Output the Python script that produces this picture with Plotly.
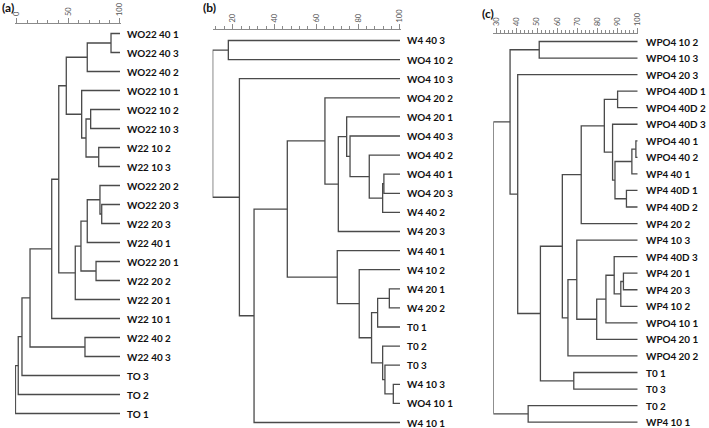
import plotly.graph_objects as go

W, H = 709, 428

# ---------------- data ----------------
a_leaves = ["WO22 40 1", "WO22 40 3", "WO22 40 2", "WO22 10 1", "WO22 10 2", "WO22 10 3",
            "W22 10 2", "W22 10 3", "WO22 20 2", "WO22 20 3", "W22 20 3", "W22 40 1",
            "WO22 20 1", "W22 20 2", "W22 20 1", "W22 10 1", "W22 40 2", "W22 40 3",
            "TO 3", "TO 2", "TO 1"]
# merges: (node, node, similarity %); "#k" = result of merge k
a_merges = [
    ("WO22 40 1", "WO22 40 3", 91.3),
    ("#0", "WO22 40 2", 68.3),
    ("WO22 10 2", "WO22 10 3", 71.6),
    ("W22 10 2", "W22 10 3", 79.4),
    ("#2", "#3", 67.1),
    ("WO22 10 1", "#4", 62.9),
    ("#1", "#5", 48.0),
    ("WO22 20 3", "W22 20 3", 82.3),
    ("WO22 20 2", "#7", 80.6),
    ("#8", "W22 40 1", 68.3),
    ("WO22 20 1", "W22 20 2", 76.8),
    ("#9", "#10", 62.2),
    ("#11", "W22 20 1", 56.7),
    ("#6", "#12", 40.7),
    ("#13", "W22 10 1", 33.9),
    ("W22 40 2", "W22 40 3", 66.1),
    ("#14", "#15", 12.9),
    ("#16", "TO 3", 5.1),
    ("#17", "TO 2", 1.5),
    ("#18", "TO 1", -1.2),
]
a_ticks = [0, 50, 100]

b_leaves = ["W4 40 3", "WO4 10 2", "WO4 10 3", "WO4 20 2", "WO4 20 1", "WO4 40 3",
            "WO4 40 2", "WO4 40 1", "WO4 20 3", "W4 40 2", "W4 20 3", "W4 40 1",
            "W4 10 2", "W4 20 1", "W4 20 2", "T0 1", "T0 2", "T0 3", "W4 10 3",
            "WO4 10 1", "W4 10 1"]
b_merges = [
    ("W4 40 3", "WO4 10 2", 17.9),
    ("WO4 40 1", "WO4 20 3", 92.3),
    ("#1", "W4 40 2", 91.7),
    ("WO4 40 2", "#2", 85.3),
    ("WO4 40 3", "#3", 76.1),
    ("WO4 20 1", "#4", 74.5),
    ("#5", "W4 20 3", 70.5),
    ("WO4 20 2", "#6", 64.1),
    ("W4 20 1", "W4 20 2", 94.9),
    ("#8", "T0 1", 89.3),
    ("W4 10 3", "WO4 10 1", 96.8),
    ("T0 3", "#10", 92.8),
    ("T0 2", "#11", 91.7),
    ("#9", "#12", 86.4),
    ("W4 10 2", "#13", 80.5),
    ("W4 40 1", "#14", 70.0),
    ("#7", "#15", 46.1),
    ("#16", "W4 10 1", 30.2),
    ("WO4 10 3", "#17", 23.2),
    ("#0", "#18", 10.4),
]
b_ticks = [20, 40, 60, 80, 100]

c_leaves = ["WPO4 10 2", "WPO4 10 3", "WPO4 20 3", "WPO4 40D 1", "WPO4 40D 2", "WPO4 40D 3",
            "WPO4 40 1", "WPO4 40 2", "WP4 40 1", "WP4 40D 1", "WP4 40D 2", "WP4 20 2",
            "WP4 10 3", "WP4 40D 3", "WP4 20 1", "WP4 20 3", "WP4 10 2", "WPO4 10 1",
            "WPO4 20 1", "WPO4 20 2", "T0 1", "T0 3", "T0 2", "WP4 10 1"]
c_merges = [
    ("WPO4 10 2", "WPO4 10 3", 51.1),
    ("WPO4 40D 1", "WPO4 40D 2", 90.1),
    ("WPO4 40 1", "WPO4 40 2", 99.2),
    ("#2", "WP4 40 1", 97.2),
    ("WP4 40D 1", "WP4 40D 2", 94.5),
    ("#3", "#4", 88.8),
    ("WPO4 40D 3", "#5", 87.6),
    ("#1", "#6", 83.5),
    ("#7", "WP4 20 2", 72.0),
    ("WP4 20 1", "WP4 20 3", 93.0),
    ("#9", "WP4 10 2", 91.7),
    ("WP4 40D 3", "#10", 88.4),
    ("#11", "WPO4 10 1", 84.3),
    ("#12", "WPO4 20 1", 79.7),
    ("WP4 10 3", "#13", 69.8),
    ("#14", "WPO4 20 2", 65.4),
    ("#8", "#15", 62.6),
    ("T0 1", "T0 3", 68.3),
    ("#16", "#17", 51.7),
    ("WPO4 20 3", "#18", 40.4),
    ("#0", "#19", 36.6),
    ("T0 2", "WP4 10 1", 45.6),
    ("#20", "#21", 28.3),
]
c_ticks = [30, 40, 50, 60, 70, 80, 90, 100]

# ---------------- layout geometry (pixels) ----------------
panels = [
    dict(leaves=a_leaves, merges=a_merges, ticks=a_ticks, px0=16.7, ppu=1.033,
         rng=(-1.6, 100.6), minor=10, axis_y=23.5, leaf0=33.5, step=19.0, gap=5,
         title="(a)", tpos=(8, 7.5)),
    dict(leaves=b_leaves, merges=b_merges, ticks=b_ticks, px0=190.9, ppu=2.091,
         rng=(10.4, 100.4), minor=4, axis_y=30, leaf0=40.5, step=19.1, gap=5,
         title="(b)", tpos=(209, 7.5)),
    dict(leaves=c_leaves, merges=c_merges, ticks=c_ticks, px0=436.5, ppu=2.01,
         rng=(28.3, 100.4), minor=2, axis_y=33.5, leaf0=41.5, step=16.55, gap=6,
         title="(c)", tpos=(488, 13)),
]

LINE = "#4a4a4a"
AXC = "#8a8a8a"
LABEL_FONT = dict(family="Lato, 'Open Sans', sans-serif", size=9.9, color="#111111", weight="bold")

fig = go.Figure()
annotations = []

for k, p in enumerate(panels):
    sfx = "" if k == 0 else str(k + 1)
    xa, ya = "x" + sfx, "y" + sfx
    leaves = p["leaves"]
    pos = {name: (100.0, float(i)) for i, name in enumerate(leaves)}
    xs, ys = [], []
    for m, (n1, n2, sim) in enumerate(p["merges"]):
        x1, y1 = pos[n1]
        x2, y2 = pos[n2]
        xs += [x1, sim, sim, x2, None]
        ys += [y1, y1, y2, y2, None]
        pos["#%d" % m] = (sim, (y1 + y2) / 2.0)
    fig.add_trace(go.Scatter(x=xs, y=ys, mode="lines", xaxis=xa, yaxis=ya,
                             line=dict(color=LINE, width=1.3), hoverinfo="skip",
                             showlegend=False))
    for i, name in enumerate(leaves):
        annotations.append(dict(x=100, y=i, xref=xa, yref=ya, text=name, showarrow=False,
                                xanchor="left", yanchor="middle", xshift=p["gap"],
                                font=LABEL_FONT))
    lo, hi = p["rng"]
    d0 = (p["px0"] + p["ppu"] * lo) / W
    d1 = (p["px0"] + p["ppu"] * hi) / W
    top = p["axis_y"]
    ytop_val = (top - p["leaf0"]) / p["step"]
    ybot_val = (H - p["leaf0"]) / p["step"]
    fig.layout["xaxis" + sfx] = dict(
        domain=[d0, d1], range=[lo, hi], anchor=ya, side="top", automargin=False,
        showline=True, linecolor=AXC, linewidth=1, mirror=False,
        ticks="outside", ticklen=5, tickwidth=1, tickcolor=AXC,
        tickmode="array", tickvals=p["ticks"], ticktext=[str(t) for t in p["ticks"]],
        tickangle=-90, tickfont=dict(family="Lato, sans-serif", size=7.5, color="#555555"),
        minor=dict(tick0=0, dtick=p["minor"], ticks="outside", ticklen=3,
                   tickwidth=1, tickcolor=AXC, showgrid=False),
        showgrid=False, zeroline=False, fixedrange=True)
    fig.layout["yaxis" + sfx] = dict(
        domain=[0, 1 - top / H], range=[ybot_val, ytop_val], anchor=xa, automargin=False,
        visible=False, showgrid=False, zeroline=False, fixedrange=True)
    annotations.append(dict(x=p["tpos"][0] / W, y=1 - p["tpos"][1] / H, xref="paper",
                            yref="paper", text=p["title"], showarrow=False,
                            xanchor="center", yanchor="middle",
                            font=dict(family="Lato, sans-serif", size=12,
                                      color="#111111", weight="bold")))

fig.update_layout(width=W, height=H, margin=dict(l=0, r=0, t=0, b=0, autoexpand=False),
                  paper_bgcolor="white", plot_bgcolor="white", showlegend=False,
                  annotations=annotations)

fig.write_html("out.html", config={"displayModeBar": False},
               post_script="document.body.style.margin='0';document.body.style.overflow='hidden';")
